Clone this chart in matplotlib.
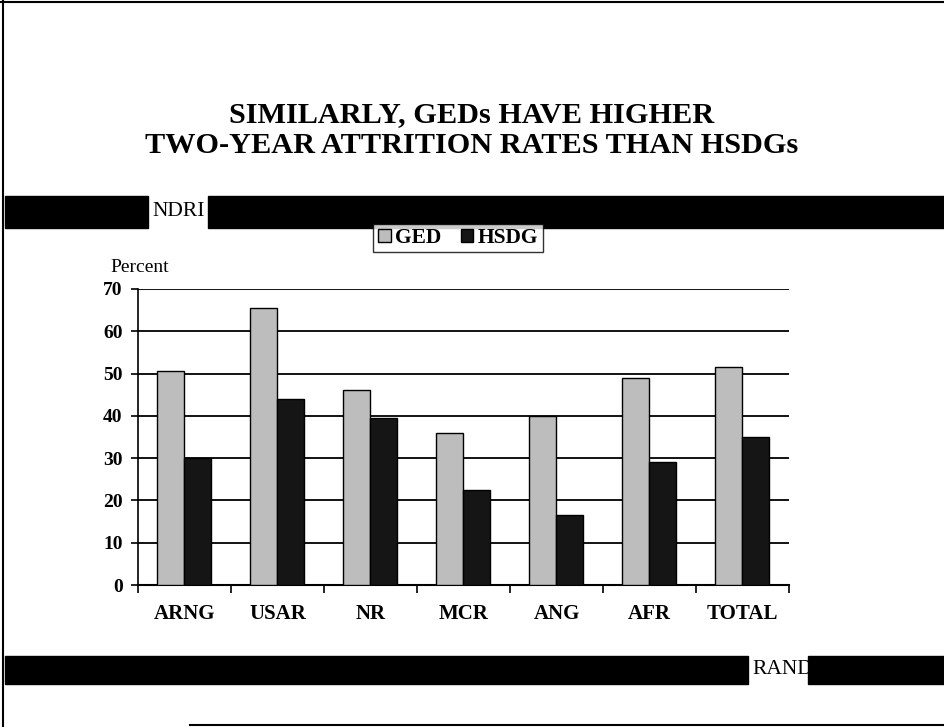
import numpy as np
import matplotlib.pyplot as plt
from matplotlib.patches import Rectangle, Patch

# data
categories = ['ARNG', 'USAR', 'NR', 'MCR', 'ANG', 'AFR', 'TOTAL']
ged = [50.5, 65.5, 46, 36, 40, 49, 51.5]
hsdg = [30, 44, 39.5, 22.5, 16.5, 29, 35]
yticks = [0, 10, 20, 30, 40, 50, 60, 70]

plt.rcParams['font.family'] = ['Liberation Serif', 'DejaVu Serif']

fig = plt.figure(figsize=(9.45, 7.27), dpi=100)
fig.patch.set_facecolor('white')

# slide decorations (pixel coords -> figure coords)
def px_rect(x0, y0, x1, y1, color='black'):
    fig.patches.append(Rectangle((x0 / 945, 1 - y1 / 727), (x1 - x0) / 945, (y1 - y0) / 727,
                                 transform=fig.transFigure, color=color, zorder=0))

px_rect(5, 196, 148, 228)
px_rect(208, 196, 945, 228)
px_rect(5, 656, 748, 684)
px_rect(808, 656, 945, 684)
fig.add_artist(plt.Line2D([3 / 945, 3 / 945], [0, 1], color='black', lw=1.5, transform=fig.transFigure))
fig.add_artist(plt.Line2D([0, 1], [1 - 2 / 727, 1 - 2 / 727], color='black', lw=1.5, transform=fig.transFigure))
fig.add_artist(plt.Line2D([190 / 945, 1], [1 - 725 / 727, 1 - 725 / 727], color='black', lw=1.5,
                          transform=fig.transFigure))

fig.text(472 / 945, 1 - 130 / 727, 'SIMILARLY, GEDs HAVE HIGHER\nTWO-YEAR ATTRITION RATES THAN HSDGs',
         ha='center', va='center', fontsize=21.8, fontweight='bold', linespacing=1.2)
fig.text(152 / 945, 1 - 212 / 727, 'NDRI', ha='left', va='center', fontsize=15.5)
fig.text(752 / 945, 1 - 670 / 727, 'RAND', ha='left', va='center', fontsize=15.5)
fig.text(110 / 945, 1 - 267 / 727, 'Percent', ha='left', va='center', fontsize=14)

ax = fig.add_axes([0.146, 0.1953, 0.689, 0.4072])
x = np.arange(len(categories))
w = 0.29
ax.bar(x - w / 2 - 0.01, ged, w, color='#bdbdbd', edgecolor='black', linewidth=1, label='GED', zorder=3)
ax.bar(x + w / 2 - 0.01, hsdg, w, color='#151515', edgecolor='black', linewidth=1, label='HSDG', zorder=3)

ax.set_xlim(-0.5, len(categories) - 0.5)
ax.set_ylim(0, 70)
ax.set_yticks(yticks)
ax.set_xticks(x)
ax.set_xticklabels(categories)
ax.set_xticks(np.arange(len(categories) + 1) - 0.5, minor=True)
ax.tick_params(axis='x', which='major', length=0, pad=14, labelsize=15)
ax.tick_params(axis='x', which='minor', length=6, direction='out', width=1.2)
ax.tick_params(axis='y', length=5, direction='out', width=1.2, pad=6, labelsize=14)
for lab in ax.get_xticklabels() + ax.get_yticklabels():
    lab.set_fontweight('bold')
ax.grid(axis='y', color='black', linewidth=1.3, zorder=1)
for s in ['top', 'right']:
    ax.spines[s].set_visible(False)
ax.spines['left'].set_linewidth(1.2)
ax.spines['bottom'].set_linewidth(1.5)
ax.set_axisbelow(True)

handles = [Patch(facecolor='#bdbdbd', edgecolor='black', label='GED'),
           Patch(facecolor='#151515', edgecolor='black', label='HSDG')]
fig.legend(handles=handles, loc='center', bbox_to_anchor=(458 / 945, 1 - 238 / 727), ncol=2,
           frameon=True, fancybox=False, edgecolor='black', prop={'weight': 'bold', 'size': 15.5},
           handlelength=0.6, handleheight=0.6, handletextpad=0.2, columnspacing=0.9, borderpad=0.2,
           borderaxespad=0)

fig.savefig('out.png', dpi=100)
